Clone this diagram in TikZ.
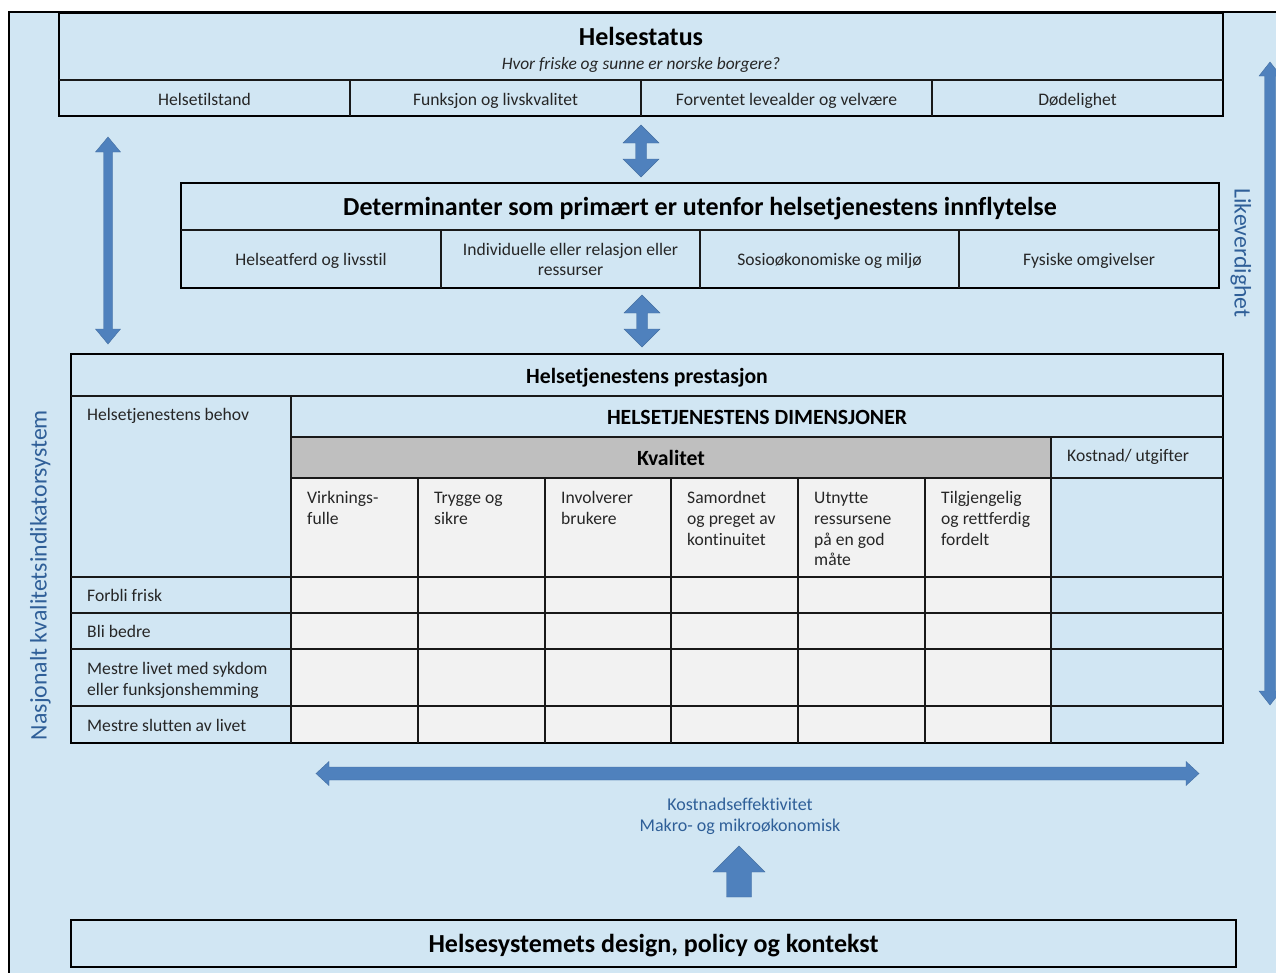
\documentclass[tikz,border=0pt]{standalone}
\usepackage{fontspec}
\setmainfont{Carlito}[Ligatures=NoCommon]
\definecolor{bgblue}{HTML}{D1E6F3}
\definecolor{arrowblue}{HTML}{4F81BD}
\definecolor{lblblue}{HTML}{2F5F98}
\definecolor{cellgray}{HTML}{F2F2F2}
\definecolor{kvalgray}{HTML}{BFBFBF}
\definecolor{txtgray}{HTML}{262626}
\begin{document}
\begin{tikzpicture}[x=1pt,y=-1pt,
  frame/.style={draw=black, line width=1.8pt},
  rule/.style={draw=black!90, line width=1.6pt},
  blockarrow/.style={fill=arrowblue, draw=arrowblue!85!black, line width=0.4pt},
  body/.style={font=\fontsize{17.6}{20.7}\selectfont, text=txtgray, inner sep=0pt},
  one/.style={body, text height=14pt, text depth=2pt},
  multi/.style={body, align=left, anchor=north west},
  bighead/.style={font=\bfseries\fontsize{26}{30}\selectfont, text=black, inner sep=0pt, text height=19pt, text depth=2pt},
  midhead/.style={font=\bfseries\fontsize{26}{30}\selectfont, text=black, inner sep=0pt, text height=19pt, text depth=2pt},
  smallhead/.style={font=\bfseries\fontsize{21.7}{25}\selectfont, text=black, inner sep=0pt, text height=16pt, text depth=1pt},
  sidelabel/.style={font=\fontsize{23.8}{27}\selectfont, text=lblblue, inner sep=0pt, text height=16pt, text depth=5pt},
  effect/.style={font=\fontsize{18}{21}\selectfont, text=lblblue, inner sep=0pt, align=center, anchor=north}
]
\useasboundingbox (0,0) rectangle (1276,972);
\begin{scope}
\clip (0,0) rectangle (1276,972);
% outer frame
\fill[bgblue] (9,12) rectangle (1300,1000);
\draw[frame] (1300,12) -- (9,12) -- (9,1000);

% ---------- Helsestatus ----------
\draw[frame] (59,13) rectangle (1223,116);
\draw[rule] (59,80) -- (1223,80);
\foreach \x in {350,641,932} \draw[rule] (\x,80) -- (\x,116);
\node[bighead] (hstitle) at (641,37) {Helsestatus};
\node[one, font=\itshape\fontsize{17.4}{20}\selectfont] (hssub) at (641,63) {Hvor friske og sunne er norske borgere?};
\node[one] (hs1) at (204.5,99) {Helsetilstand};
\node[one] (hs2) at (495.5,99) {Funksjon og livskvalitet};
\node[one] (hs3) at (786.5,99) {Forventet levealder og velvære};
\node[one] (hs4) at (1077.5,99) {Dødelighet};

% ---------- Determinanter ----------
\draw[frame] (181,183) rectangle (1219,288);
\draw[rule] (181,230) -- (1219,230);
\foreach \x in {441,700,959} \draw[rule] (\x,230) -- (\x,288);
\node[midhead] (dettitle) at (700,207) {Determinanter som primært er utenfor helsetjenestens innflytelse};
\node[one] (det1) at (311,259) {Helseatferd og livsstil};
\node[body, align=center, anchor=north] (det2) at (570.5,240.5) {\strut Individuelle eller relasjon eller\\ressurser};
\node[one] (det3) at (829.5,259) {Sosioøkonomiske og miljø};
\node[one] (det4) at (1089,259) {Fysiske omgivelser};

% ---------- Prestasjon table ----------
\fill[kvalgray] (291,437) rectangle (1051,478);
\fill[cellgray] (291,478) rectangle (1051,743);
\draw[frame] (71,354) rectangle (1223,743);
\draw[rule] (71,396) -- (1223,396);
\draw[rule] (291,437) -- (1223,437);
\draw[rule] (291,478) -- (1223,478);
\foreach \y in {577,613,649,706} \draw[rule] (71,\y) -- (1223,\y);
\draw[rule] (291,396) -- (291,743);
\draw[rule] (1051,437) -- (1051,743);
\foreach \x in {418,545,671,798,925} \draw[rule] (\x,478) -- (\x,743);

\node[smallhead] (prtitle) at (647,376) {Helsetjenestens prestasjon};
\node[smallhead] (dimtitle) at (757,417) {HELSETJENESTENS DIMENSJONER};
\node[smallhead] (kval) at (671,458) {Kvalitet};
\node[one, anchor=west] (kost) at (1067,455) {Kostnad/ utgifter};
\node[one, anchor=west] (behov) at (87,414) {Helsetjenestens behov};

\node[multi] (q1) at (307,489) {\strut Virknings-\\fulle};
\node[multi] (q2) at (434,489) {\strut Trygge og\\sikre};
\node[multi] (q3) at (561,489) {\strut Involverer\\brukere};
\node[multi] (q4) at (687,489) {\strut Samordnet\\og preget av\\kontinuitet};
\node[multi] (q5) at (814,489) {\strut Utnytte\\ressursene\\på en god\\måte};
\node[multi] (q6) at (941,489) {\strut Tilgjengelig\\og rettferdig\\fordelt};

\node[one, anchor=west] (r1) at (87,595) {Forbli frisk};
\node[one, anchor=west] (r2) at (87,631) {Bli bedre};
\node[multi] (r3) at (87,660) {\strut Mestre livet med sykdom\\eller funksjonshemming};
\node[one, anchor=west] (r4) at (87,725) {Mestre slutten av livet};

% ---------- Side labels ----------
\node[sidelabel, rotate=90] (nks) at (41,575) {Nasjonalt kvalitetsindikatorsystem};
\node[sidelabel, rotate=-90] (likev) at (1240,253) {Likeverdighet};

% ---------- Arrows ----------
% between Helsestatus and Determinanter
\fill[blockarrow] (641,125) -- (659,143) -- (646.5,143) -- (646.5,159) -- (659,159) -- (641,177)
  -- (623,159) -- (635.5,159) -- (635.5,143) -- (623,143) -- cycle;
% between Determinanter and Prestasjon
\fill[blockarrow] (642,295) -- (660,313) -- (647.5,313) -- (647.5,329) -- (660,329) -- (642,347)
  -- (624,329) -- (636.5,329) -- (636.5,313) -- (624,313) -- cycle;
% left vertical
\fill[blockarrow] (108,137) -- (120.5,152) -- (112.5,152) -- (112.5,329) -- (120.5,329) -- (108,344)
  -- (95.5,329) -- (103.5,329) -- (103.5,152) -- (95.5,152) -- cycle;
% right vertical
\fill[blockarrow] (1270,62) -- (1281,76) -- (1275.5,76) -- (1275.5,691) -- (1281,691) -- (1270,705)
  -- (1259,691) -- (1264.5,691) -- (1264.5,76) -- (1259,76) -- cycle;
% horizontal
\fill[blockarrow] (316,773.5) -- (329,761.5) -- (329,767) -- (1186,767) -- (1186,761.5) -- (1199,773.5)
  -- (1186,785.5) -- (1186,780) -- (329,780) -- (329,785.5) -- cycle;
% up arrow
\fill[blockarrow] (739,846) -- (765,872) -- (751.5,872) -- (751.5,897) -- (726.5,897) -- (726.5,872)
  -- (713,872) -- cycle;

\node[effect] (eff) at (740,795.5) {\strut Kostnadseffektivitet\\Makro- og mikroøkonomisk};

% ---------- Design box ----------
\draw[frame] (71,920) rectangle (1236,967);
\node[midhead] (design) at (653.5,944) {Helsesystemets design, policy og kontekst};
\end{scope}
\end{tikzpicture}
\end{document}
